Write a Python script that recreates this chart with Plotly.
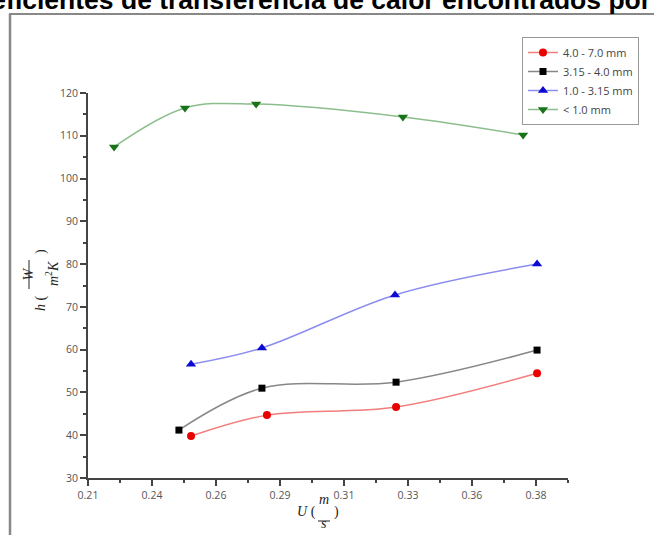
import plotly.graph_objects as go

# ---- data ----
series_names = ["4.0 - 7.0 mm", "3.15 - 4.0 mm", "1.0 - 3.15 mm", "< 1.0 mm"]
x_red = [0.2491, 0.2779, 0.3269, 0.3804]
y_red = [39.8, 44.7, 46.6, 54.5]
x_black = [0.2445, 0.2760, 0.3269, 0.3804]
y_black = [41.2, 51.0, 52.4, 59.9]
x_blue = [0.2491, 0.2760, 0.3265, 0.3804]
y_blue = [56.6, 60.4, 72.8, 80.0]
x_green = [0.2199, 0.2468, 0.2738, 0.3295, 0.3751]
y_green = [107.4, 116.5, 117.4, 114.4, 110.2]

x_tickvals = [0.21, 0.23429, 0.25857, 0.28286, 0.30714, 0.33143, 0.35571, 0.38]
x_ticktext = ["0.21", "0.24", "0.26", "0.29", "0.31", "0.33", "0.36", "0.38"]
y_tickvals = [30, 40, 50, 60, 70, 80, 90, 100, 110, 120]

W, H = 654, 535
ML, MR, MT, MB = 88, 86, 93, 57
PW, PH = W - ML - MR, H - MT - MB


def px(x):
    return (x - ML) / PW


def py(y):
    return (H - MB - y) / PH


fig = go.Figure()

styles = [
    (x_red, y_red, "rgb(242,125,125)", "rgb(235,0,0)", "circle", 8),
    (x_black, y_black, "rgb(135,135,135)", "rgb(0,0,0)", "square", 7),
    (x_blue, y_blue, "rgb(140,140,240)", "rgb(10,10,210)", "triangle-up", 9),
    (x_green, y_green, "rgb(140,190,140)", "rgb(25,115,25)", "triangle-down", 9),
]
for name, (xs, ys, lc, mc, sym, ms) in zip(series_names, styles):
    fig.add_trace(go.Scatter(
        x=xs, y=ys, name=name, mode="lines+markers",
        line=dict(color=lc, width=1.5, shape="spline", smoothing=1),
        marker=dict(color=mc, symbol=sym, size=ms),
    ))

axis_font = dict(family="Open Sans, Liberation Sans, sans-serif", size=10.5, color="#555")

fig.update_xaxes(
    range=[0.21, 0.39214], tickmode="array", tickvals=x_tickvals, ticktext=x_ticktext,
    showline=True, linecolor="#444", linewidth=2, ticks="outside", ticklen=6,
    tickwidth=2, tickcolor="#444", showgrid=False, zeroline=False, tickfont=axis_font,
    minor=dict(ticks="outside", tick0=0.21, dtick=0.17 / 14, ticklen=3, tickwidth=2,
               tickcolor="#444", showgrid=False),
)
fig.update_yaxes(
    range=[30, 120], tickmode="array", tickvals=y_tickvals,
    showline=True, linecolor="#444", linewidth=2, ticks="outside", ticklen=6,
    tickwidth=2, tickcolor="#444", showgrid=False, zeroline=False, tickfont=axis_font,
    minor=dict(ticks="outside", tick0=30, dtick=5, ticklen=3, tickwidth=2,
               tickcolor="#444", showgrid=False),
)

serif = dict(family="Liberation Serif, DejaVu Serif, serif", size=14, color="#222")
ann = []
# title (cropped by the picture's edges)
ann.append(dict(text="<b>Coeficientes de transferencia de calor encontrados por</b>",
                x=px(653), y=py(17), xref="paper", yref="paper", xanchor="right",
                yanchor="bottom", showarrow=False,
                font=dict(family="Liberation Sans, Arial, sans-serif", size=26.5, color="#000")))
# y-axis title h (W / m^2 K)
ann.append(dict(text="<i>h</i> (", x=px(31), y=py(303), textangle=-90, font=serif))
ann.append(dict(text="<i>W</i>", x=px(18), y=py(274), textangle=-90, font=serif))
ann.append(dict(text="<i>m</i><sup>2</sup><i>K</i>", x=px(41), y=py(274), textangle=-90,
                font=serif))
ann.append(dict(text=")", x=px(31), y=py(252), textangle=-90, font=serif))
# x-axis title U (m / s)
ann.append(dict(text="<i>U</i> (", x=px(306), y=py(522), font=serif))
ann.append(dict(text="<i>m</i>", x=px(324), y=py(509), font=serif))
ann.append(dict(text="<i>s</i>", x=px(324), y=py(533), font=serif))
ann.append(dict(text=")", x=px(336), y=py(522), font=serif))
for a in ann:
    a.setdefault("xref", "paper")
    a.setdefault("yref", "paper")
    a.setdefault("showarrow", False)
fig.update_layout(annotations=ann)

shapes = [
    dict(type="line", xref="paper", yref="paper", x0=px(10), x1=px(10), y0=py(14), y1=py(540),
         line=dict(color="#888", width=2.5)),
    dict(type="line", xref="paper", yref="paper", x0=px(9), x1=px(660), y0=py(14), y1=py(14),
         line=dict(color="#888", width=2)),
    dict(type="line", xref="paper", yref="paper", x0=px(29), x1=px(29), y0=py(289), y1=py(260),
         line=dict(color="#222", width=1)),
    dict(type="line", xref="paper", yref="paper", x0=px(318), x1=px(330), y0=py(521), y1=py(521),
         line=dict(color="#222", width=1)),
]
fig.update_layout(shapes=shapes)

fig.update_layout(
    width=W, height=H, margin=dict(l=ML, r=MR, t=MT, b=MB),
    paper_bgcolor="white", plot_bgcolor="white",
    showlegend=True,
    legend=dict(x=px(522), y=py(37), xanchor="left", yanchor="top",
                bordercolor="#999", borderwidth=1, bgcolor="white",
                font=dict(family="Open Sans, Liberation Sans, sans-serif", size=11, color="#444"),
                itemwidth=30, tracegroupgap=0),
)

fig.write_html("out.html")
